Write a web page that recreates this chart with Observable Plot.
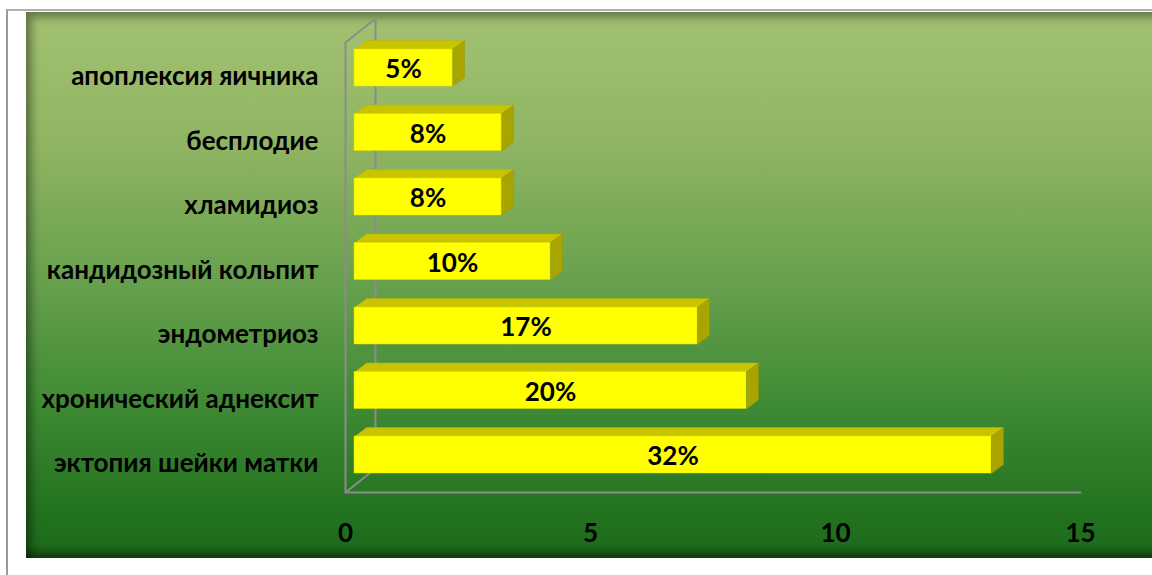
<!DOCTYPE html>
<html>
<head>
<meta charset="utf-8">
<script src="https://cdn.jsdelivr.net/npm/d3@7"></script>
<script src="https://cdn.jsdelivr.net/npm/@observablehq/plot@0.6"></script>
<style>
  html, body { margin: 0; padding: 0; background: #ffffff; }
  #wrap { position: relative; width: 1152px; height: 575px; overflow: hidden; background: #fff; }
  #frame { position: absolute; left: 6px; top: 9px; width: 1160px; height: 580px;
           border-left: 2px solid #9a9a9a; border-top: 2px solid #b0b0b0; }
  #panel { position: absolute; left: 26px; top: 12px; width: 1140px; height: 546px;
           background: linear-gradient(to bottom, #a2c272 0%, #8fb462 25%, #66a04c 50%, #3f8a34 72%, #22721f 92%, #1d6a1c 100%);
           box-shadow: inset 6px 6px 8px rgba(0,0,0,0.35), inset -4px -6px 8px rgba(0,0,0,0.45); }
  #chart { position: absolute; left: 0; top: 0; }
</style>
</head>
<body>
<div id="wrap"><div id="frame"></div><div id="panel"></div><div id="chart"></div></div>
<script>
// ---- data ----
const categories = ["эктопия шейки матки", "хронический аднексит", "эндометриоз", "кандидозный кольпит", "хламидиоз", "бесплодие", "апоплексия яичника"];
const values = [13, 8, 7, 4, 3, 3, 2];
const percentLabels = ["32%", "20%", "17%", "10%", "8%", "8%", "5%"];
const xTicks = [0, 5, 10, 15];

// ---- scales (shared with Plot) ----
const xDomain = [0, 15], xRange = [345, 1080];
const yDomain = [0, categories.length - 1], yRange = [454.5, 67.5];
const pxX = (xDomain[1] - xDomain[0]) / (xRange[1] - xRange[0]);   // data units per px
const pxY = (yDomain[1] - yDomain[0]) / (yRange[0] - yRange[1]);

// 3D geometry in pixels (style)
const half = 18.5 * pxY;          // half bar thickness
const frontDx = 9;                 // front face offset from wall
const depX = 12 * pxX, depY = 9 * pxY; // bar depth
const wallDX = 30 * pxX, wallDY = 24 * pxY;
const floorY = -37.5 * pxY, wallTop = 412.5 * pxY;

const bars = categories.map((c, i) => ({ cat: c, i, v: values[i], label: percentLabels[i] }));

const topFaces = bars.flatMap(b => [
  { k: b.i, x: 0, y: b.i + half },
  { k: b.i, x: b.v, y: b.i + half },
  { k: b.i, x: b.v + depX, y: b.i + half + depY },
  { k: b.i, x: depX, y: b.i + half + depY }
]);
const sideFaces = bars.flatMap(b => [
  { k: b.i, x: b.v, y: b.i + half },
  { k: b.i, x: b.v + depX, y: b.i + half + depY },
  { k: b.i, x: b.v + depX, y: b.i - half + depY },
  { k: b.i, x: b.v, y: b.i - half }
]);
const wall = [
  { x: 0, y: floorY }, { x: 0, y: wallTop }, { x: wallDX, y: wallTop + wallDY }, { x: wallDX, y: floorY + wallDY }, { x: 0, y: floorY }
];
const floor = [{ x: 0, y: floorY }, { x: xDomain[1], y: floorY }];

const font = "Lato, 'Open Sans', sans-serif";

const chart = Plot.plot({
  width: 1152, height: 575,
  marginLeft: 0, marginRight: 0, marginTop: 0, marginBottom: 0,
  style: { background: "transparent", fontFamily: font },
  x: { domain: xDomain, range: xRange, axis: null },
  y: { domain: yDomain, range: yRange, axis: null },
  marks: [
    Plot.line(wall, { x: "x", y: "y", stroke: "#8c8c8c", strokeWidth: 2 }),
    Plot.line(floor, { x: "x", y: "y", stroke: "#8c8c8c", strokeWidth: 2 }),
    Plot.line(topFaces, { x: "x", y: "y", z: "k", fill: "#c8c400", stroke: "#b8b400", strokeWidth: 0.5, dx: frontDx }),
    Plot.line(sideFaces, { x: "x", y: "y", z: "k", fill: "#a8a400", stroke: "#989400", strokeWidth: 0.5, dx: frontDx }),
    Plot.rect(bars, { x1: 0, x2: "v", y1: d => d.i - half, y2: d => d.i + half, fill: "#ffff00", stroke: "#e0e000", strokeWidth: 0.5, dx: frontDx }),
    Plot.text(bars, { x: d => d.v / 2, y: "i", text: "label", dx: frontDx, dy: 2, fill: "#000", fontSize: 26, fontWeight: "bold" }),
    Plot.text(bars, { x: 0, y: "i", text: "cat", dx: -27, dy: 9, textAnchor: "end", fill: "#000", fontSize: 26, fontWeight: "bold" }),
    Plot.text(xTicks, { x: d => d, y: floorY, text: d => String(d), dy: 41, fill: "#000", fontSize: 26, fontWeight: "bold" })
  ]
});
document.getElementById("chart").appendChild(chart);
</script>
</body>
</html>
